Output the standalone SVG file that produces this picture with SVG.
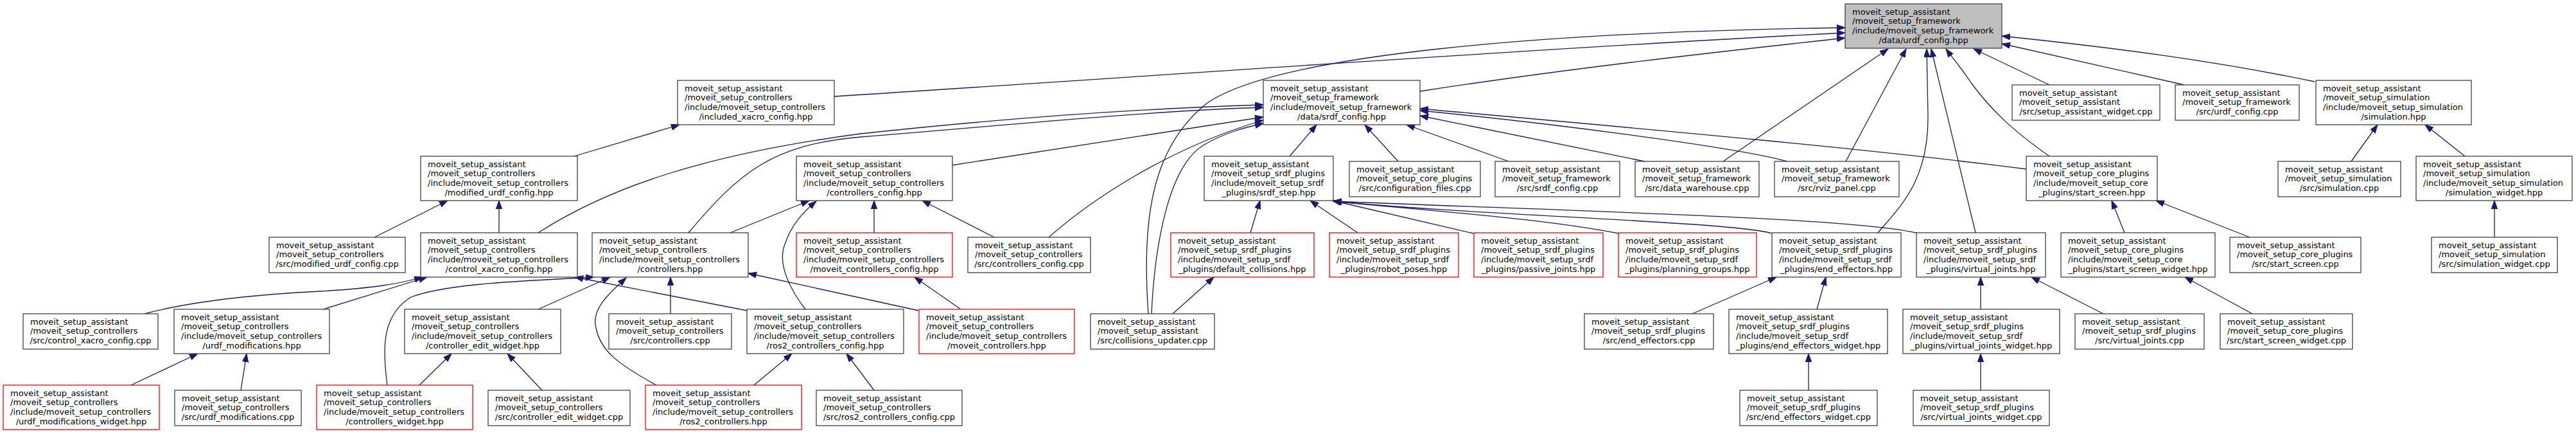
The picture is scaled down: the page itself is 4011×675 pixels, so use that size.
<svg xmlns="http://www.w3.org/2000/svg" width="4011" height="675" viewBox="0 0 4011 675">
<style>
.n rect{fill:#fff;stroke:#404040;stroke-width:1.3}
.n.r rect{stroke:#ff0000}
.n.root rect{fill:#bfbfbf;stroke:#404040}
text{font-family:"DejaVu Sans","Liberation Sans",sans-serif;font-size:13px;fill:#000}
.c{text-anchor:middle}
.e path{fill:none;stroke:#191970;stroke-width:1.3;marker-end:url(#a)}
</style>
<defs>
<marker id="a" markerUnits="userSpaceOnUse" markerWidth="14" markerHeight="10" refX="13" refY="4.7" orient="auto"><path d="M0,0 L13,4.7 L0,9.4 z" fill="#191970" stroke="#191970" stroke-width="1"/></marker>
</defs>
<rect width="4011" height="675" fill="#fff"/>
<g id="edges" class="e">
<path d="M1299,150 C1800,118 2400,75 2873,51"/>
<path d="M1788,488 C1778,350 1790,230 1880,160 C1990,85 2400,50 2873,43"/>
<path d="M2211,142 C2450,105 2700,78 2873,59"/>
<path d="M2683,251 L2940,76"/>
<path d="M2874,251 L2968,76"/>
<path d="M2924,362 C2960,320 3003,280 3002,180 L3000,76"/>
<path d="M3076,362 L3007,76"/>
<path d="M3191,243 C3130,200 3100,170 3070,130 C3050,100 3040,90 3030,76"/>
<path d="M3191,132 L3073,76"/>
<path d="M3604,127 C3450,95 3300,75 3117,56"/>
<path d="M3401,132 L3117,68"/>
<path d="M838,362 C950,290 1100,240 1340,208 C1600,180 1800,168 1967,163"/>
<path d="M1072,362 C1150,270 1200,225 1340,213 C1600,192 1800,172 1967,167"/>
<path d="M1482,257 L1967,182"/>
<path d="M1633,369 C1700,310 1820,230 1967,187"/>
<path d="M1793,488 C1797,400 1815,260 1875,225 C1910,205 1940,198 1967,192"/>
<path d="M2008,243 L2050,194"/>
<path d="M2177,251 L2125,194"/>
<path d="M2349,251 L2190,194"/>
<path d="M2561,251 L2211,180"/>
<path d="M2783,251 C2700,228 2400,190 2211,172"/>
<path d="M3155,263 C2900,230 2500,195 2211,169"/>
<path d="M1947,362 L1962,312"/>
<path d="M2114,362 L2040,312"/>
<path d="M2294,363 L2075,312"/>
<path d="M2520,363 C2400,340 2250,330 2076,313"/>
<path d="M2759,363 C2700,345 2300,335 2076,313"/>
<path d="M2987,363 C2900,340 2500,330 2076,313"/>
<path d="M3503,369 L3357,312"/>
<path d="M3308,362 L3288,312"/>
<path d="M3507,488 L3402,431"/>
<path d="M3661,251 L3702,194"/>
<path d="M3838,243 L3776,194"/>
<path d="M3884,369 L3884,312"/>
<path d="M2829,481 L2843,431"/>
<path d="M2635,488 L2766,431"/>
<path d="M2816,607 L2816,550"/>
<path d="M3084,481 L3084,431"/>
<path d="M3275,488 L3163,431"/>
<path d="M3084,607 L3084,550"/>
<path d="M1826,488 L1890,431"/>
<path d="M894,243 L1058,194"/>
<path d="M583,369 L697,312"/>
<path d="M777,362 L777,312"/>
<path d="M225,488 C300,468 400,458 500,453 C580,448 620,442 658,431"/>
<path d="M503,481 L665,431"/>
<path d="M1163,483 L895,431"/>
<path d="M603,599 C595,540 595,490 640,462 C700,440 820,437 925,431"/>
<path d="M838,481 L950,431"/>
<path d="M1022,599 C960,565 935,545 928,510 C920,480 950,455 975,432"/>
<path d="M1044,488 L1044,431"/>
<path d="M1430,483 L1165,425"/>
<path d="M1137,362 L1260,312"/>
<path d="M1254,481 C1230,450 1210,410 1222,380 C1232,350 1250,330 1271,313"/>
<path d="M1361,362 L1361,312"/>
<path d="M1548,369 L1436,312"/>
<path d="M1496,481 L1424,431"/>
<path d="M1174,599 L1233,550"/>
<path d="M1361,607 L1318,550"/>
<path d="M653,599 L703,550"/>
<path d="M844,607 L790,550"/>
<path d="M204,599 L308,550"/>
<path d="M375,607 L384,550"/>
</g>
<g id="root" class="n root" transform="translate(2873,6)"><rect width="244" height="69"/><text><tspan x="11" y="16.5">moveit_setup_assistant</tspan><tspan x="11" y="31.2">/moveit_setup_framework</tspan><tspan x="11" y="45.9">/include/moveit_setup_framework</tspan><tspan class="c" x="122" y="60.6">/data/urdf_config.hpp</tspan></text></g>
<g id="included_xacro_config_hpp" class="n" transform="translate(1055,125)"><rect width="244" height="69"/><text><tspan x="11" y="16.5">moveit_setup_assistant</tspan><tspan x="11" y="31.2">/moveit_setup_controllers</tspan><tspan x="11" y="45.9">/include/moveit_setup_controllers</tspan><tspan class="c" x="122" y="60.6">/included_xacro_config.hpp</tspan></text></g>
<g id="srdf_config_hpp" class="n" transform="translate(1967,125)"><rect width="244" height="69"/><text><tspan x="11" y="16.5">moveit_setup_assistant</tspan><tspan x="11" y="31.2">/moveit_setup_framework</tspan><tspan x="11" y="45.9">/include/moveit_setup_framework</tspan><tspan class="c" x="122" y="60.6">/data/srdf_config.hpp</tspan></text></g>
<g id="setup_assistant_widget_cpp" class="n" transform="translate(3133,132)"><rect width="230" height="55"/><text><tspan x="11" y="16.5">moveit_setup_assistant</tspan><tspan x="11" y="31.2">/moveit_setup_assistant</tspan><tspan class="c" x="115" y="45.9">/src/setup_assistant_widget.cpp</tspan></text></g>
<g id="urdf_config_cpp" class="n" transform="translate(3387,132)"><rect width="193" height="55"/><text><tspan x="11" y="16.5">moveit_setup_assistant</tspan><tspan x="11" y="31.2">/moveit_setup_framework</tspan><tspan class="c" x="96.5" y="45.9">/src/urdf_config.cpp</tspan></text></g>
<g id="simulation_hpp" class="n" transform="translate(3606,125)"><rect width="242" height="69"/><text><tspan x="11" y="16.5">moveit_setup_assistant</tspan><tspan x="11" y="31.2">/moveit_setup_simulation</tspan><tspan x="11" y="45.9">/include/moveit_setup_simulation</tspan><tspan class="c" x="121" y="60.6">/simulation.hpp</tspan></text></g>
<g id="modified_urdf_config_hpp" class="n" transform="translate(655,243)"><rect width="244" height="69"/><text><tspan x="11" y="16.5">moveit_setup_assistant</tspan><tspan x="11" y="31.2">/moveit_setup_controllers</tspan><tspan x="11" y="45.9">/include/moveit_setup_controllers</tspan><tspan class="c" x="122" y="60.6">/modified_urdf_config.hpp</tspan></text></g>
<g id="controllers_config_hpp" class="n" transform="translate(1240,243)"><rect width="243" height="69"/><text><tspan x="11" y="16.5">moveit_setup_assistant</tspan><tspan x="11" y="31.2">/moveit_setup_controllers</tspan><tspan x="11" y="45.9">/include/moveit_setup_controllers</tspan><tspan class="c" x="121.5" y="60.6">/controllers_config.hpp</tspan></text></g>
<g id="srdf_step_hpp" class="n" transform="translate(1875,243)"><rect width="201" height="69"/><text><tspan x="11" y="16.5">moveit_setup_assistant</tspan><tspan x="11" y="31.2">/moveit_setup_srdf_plugins</tspan><tspan x="11" y="45.9">/include/moveit_setup_srdf</tspan><tspan class="c" x="100.5" y="60.6">_plugins/srdf_step.hpp</tspan></text></g>
<g id="configuration_files_cpp" class="n" transform="translate(2101,251)"><rect width="204" height="55"/><text><tspan x="11" y="16.5">moveit_setup_assistant</tspan><tspan x="11" y="31.2">/moveit_setup_core_plugins</tspan><tspan class="c" x="102" y="45.9">/src/configuration_files.cpp</tspan></text></g>
<g id="srdf_config_cpp" class="n" transform="translate(2328,251)"><rect width="194" height="55"/><text><tspan x="11" y="16.5">moveit_setup_assistant</tspan><tspan x="11" y="31.2">/moveit_setup_framework</tspan><tspan class="c" x="97" y="45.9">/src/srdf_config.cpp</tspan></text></g>
<g id="data_warehouse_cpp" class="n" transform="translate(2546,251)"><rect width="193" height="55"/><text><tspan x="11" y="16.5">moveit_setup_assistant</tspan><tspan x="11" y="31.2">/moveit_setup_framework</tspan><tspan class="c" x="96.5" y="45.9">/src/data_warehouse.cpp</tspan></text></g>
<g id="rviz_panel_cpp" class="n" transform="translate(2763,251)"><rect width="194" height="55"/><text><tspan x="11" y="16.5">moveit_setup_assistant</tspan><tspan x="11" y="31.2">/moveit_setup_framework</tspan><tspan class="c" x="97" y="45.9">/src/rviz_panel.cpp</tspan></text></g>
<g id="start_screen_hpp" class="n" transform="translate(3155,243)"><rect width="204" height="69"/><text><tspan x="11" y="16.5">moveit_setup_assistant</tspan><tspan x="11" y="31.2">/moveit_setup_core_plugins</tspan><tspan x="11" y="45.9">/include/moveit_setup_core</tspan><tspan class="c" x="102" y="60.6">_plugins/start_screen.hpp</tspan></text></g>
<g id="simulation_cpp" class="n" transform="translate(3547,251)"><rect width="191" height="55"/><text><tspan x="11" y="16.5">moveit_setup_assistant</tspan><tspan x="11" y="31.2">/moveit_setup_simulation</tspan><tspan class="c" x="95.5" y="45.9">/src/simulation.cpp</tspan></text></g>
<g id="simulation_widget_hpp" class="n" transform="translate(3762,243)"><rect width="243" height="69"/><text><tspan x="11" y="16.5">moveit_setup_assistant</tspan><tspan x="11" y="31.2">/moveit_setup_simulation</tspan><tspan x="11" y="45.9">/include/moveit_setup_simulation</tspan><tspan class="c" x="121.5" y="60.6">/simulation_widget.hpp</tspan></text></g>
<g id="modified_urdf_config_cpp" class="n" transform="translate(419,369)"><rect width="212" height="55"/><text><tspan x="11" y="16.5">moveit_setup_assistant</tspan><tspan x="11" y="31.2">/moveit_setup_controllers</tspan><tspan class="c" x="106" y="45.9">/src/modified_urdf_config.cpp</tspan></text></g>
<g id="control_xacro_config_hpp" class="n" transform="translate(655,362)"><rect width="244" height="69"/><text><tspan x="11" y="16.5">moveit_setup_assistant</tspan><tspan x="11" y="31.2">/moveit_setup_controllers</tspan><tspan x="11" y="45.9">/include/moveit_setup_controllers</tspan><tspan class="c" x="122" y="60.6">/control_xacro_config.hpp</tspan></text></g>
<g id="controllers_hpp" class="n" transform="translate(922,362)"><rect width="243" height="69"/><text><tspan x="11" y="16.5">moveit_setup_assistant</tspan><tspan x="11" y="31.2">/moveit_setup_controllers</tspan><tspan x="11" y="45.9">/include/moveit_setup_controllers</tspan><tspan class="c" x="121.5" y="60.6">/controllers.hpp</tspan></text></g>
<g id="moveit_controllers_config_hpp" class="n r" transform="translate(1240,362)"><rect width="243" height="69"/><text><tspan x="11" y="16.5">moveit_setup_assistant</tspan><tspan x="11" y="31.2">/moveit_setup_controllers</tspan><tspan x="11" y="45.9">/include/moveit_setup_controllers</tspan><tspan class="c" x="121.5" y="60.6">/moveit_controllers_config.hpp</tspan></text></g>
<g id="controllers_config_cpp" class="n" transform="translate(1507,369)"><rect width="191" height="55"/><text><tspan x="11" y="16.5">moveit_setup_assistant</tspan><tspan x="11" y="31.2">/moveit_setup_controllers</tspan><tspan class="c" x="95.5" y="45.9">/src/controllers_config.cpp</tspan></text></g>
<g id="default_collisions_hpp" class="n r" transform="translate(1823,362)"><rect width="223" height="69"/><text><tspan x="11" y="16.5">moveit_setup_assistant</tspan><tspan x="11" y="31.2">/moveit_setup_srdf_plugins</tspan><tspan x="11" y="45.9">/include/moveit_setup_srdf</tspan><tspan class="c" x="111.5" y="60.6">_plugins/default_collisions.hpp</tspan></text></g>
<g id="robot_poses_hpp" class="n r" transform="translate(2070,362)"><rect width="201" height="69"/><text><tspan x="11" y="16.5">moveit_setup_assistant</tspan><tspan x="11" y="31.2">/moveit_setup_srdf_plugins</tspan><tspan x="11" y="45.9">/include/moveit_setup_srdf</tspan><tspan class="c" x="100.5" y="60.6">_plugins/robot_poses.hpp</tspan></text></g>
<g id="passive_joints_hpp" class="n r" transform="translate(2295,362)"><rect width="201" height="69"/><text><tspan x="11" y="16.5">moveit_setup_assistant</tspan><tspan x="11" y="31.2">/moveit_setup_srdf_plugins</tspan><tspan x="11" y="45.9">/include/moveit_setup_srdf</tspan><tspan class="c" x="100.5" y="60.6">_plugins/passive_joints.hpp</tspan></text></g>
<g id="planning_groups_hpp" class="n r" transform="translate(2520,362)"><rect width="215" height="69"/><text><tspan x="11" y="16.5">moveit_setup_assistant</tspan><tspan x="11" y="31.2">/moveit_setup_srdf_plugins</tspan><tspan x="11" y="45.9">/include/moveit_setup_srdf</tspan><tspan class="c" x="107.5" y="60.6">_plugins/planning_groups.hpp</tspan></text></g>
<g id="end_effectors_hpp" class="n" transform="translate(2759,362)"><rect width="201" height="69"/><text><tspan x="11" y="16.5">moveit_setup_assistant</tspan><tspan x="11" y="31.2">/moveit_setup_srdf_plugins</tspan><tspan x="11" y="45.9">/include/moveit_setup_srdf</tspan><tspan class="c" x="100.5" y="60.6">_plugins/end_effectors.hpp</tspan></text></g>
<g id="virtual_joints_hpp" class="n" transform="translate(2984,362)"><rect width="201" height="69"/><text><tspan x="11" y="16.5">moveit_setup_assistant</tspan><tspan x="11" y="31.2">/moveit_setup_srdf_plugins</tspan><tspan x="11" y="45.9">/include/moveit_setup_srdf</tspan><tspan class="c" x="100.5" y="60.6">_plugins/virtual_joints.hpp</tspan></text></g>
<g id="start_screen_widget_hpp" class="n" transform="translate(3209,362)"><rect width="240" height="69"/><text><tspan x="11" y="16.5">moveit_setup_assistant</tspan><tspan x="11" y="31.2">/moveit_setup_core_plugins</tspan><tspan x="11" y="45.9">/include/moveit_setup_core</tspan><tspan class="c" x="120" y="60.6">_plugins/start_screen_widget.hpp</tspan></text></g>
<g id="start_screen_cpp" class="n" transform="translate(3472,369)"><rect width="204" height="55"/><text><tspan x="11" y="16.5">moveit_setup_assistant</tspan><tspan x="11" y="31.2">/moveit_setup_core_plugins</tspan><tspan class="c" x="102" y="45.9">/src/start_screen.cpp</tspan></text></g>
<g id="simulation_widget_cpp" class="n" transform="translate(3786,369)"><rect width="196" height="55"/><text><tspan x="11" y="16.5">moveit_setup_assistant</tspan><tspan x="11" y="31.2">/moveit_setup_simulation</tspan><tspan class="c" x="98" y="45.9">/src/simulation_widget.cpp</tspan></text></g>
<g id="control_xacro_config_cpp" class="n" transform="translate(36,488)"><rect width="210" height="55"/><text><tspan x="11" y="16.5">moveit_setup_assistant</tspan><tspan x="11" y="31.2">/moveit_setup_controllers</tspan><tspan class="c" x="105" y="45.9">/src/control_xacro_config.cpp</tspan></text></g>
<g id="urdf_modifications_hpp" class="n" transform="translate(271,481)"><rect width="242" height="69"/><text><tspan x="11" y="16.5">moveit_setup_assistant</tspan><tspan x="11" y="31.2">/moveit_setup_controllers</tspan><tspan x="11" y="45.9">/include/moveit_setup_controllers</tspan><tspan class="c" x="121" y="60.6">/urdf_modifications.hpp</tspan></text></g>
<g id="controller_edit_widget_hpp" class="n" transform="translate(630,481)"><rect width="243" height="69"/><text><tspan x="11" y="16.5">moveit_setup_assistant</tspan><tspan x="11" y="31.2">/moveit_setup_controllers</tspan><tspan x="11" y="45.9">/include/moveit_setup_controllers</tspan><tspan class="c" x="121.5" y="60.6">/controller_edit_widget.hpp</tspan></text></g>
<g id="controllers_cpp" class="n" transform="translate(948,488)"><rect width="191" height="55"/><text><tspan x="11" y="16.5">moveit_setup_assistant</tspan><tspan x="11" y="31.2">/moveit_setup_controllers</tspan><tspan class="c" x="95.5" y="45.9">/src/controllers.cpp</tspan></text></g>
<g id="ros2_controllers_config_hpp" class="n" transform="translate(1163,481)"><rect width="244" height="69"/><text><tspan x="11" y="16.5">moveit_setup_assistant</tspan><tspan x="11" y="31.2">/moveit_setup_controllers</tspan><tspan x="11" y="45.9">/include/moveit_setup_controllers</tspan><tspan class="c" x="122" y="60.6">/ros2_controllers_config.hpp</tspan></text></g>
<g id="moveit_controllers_hpp" class="n r" transform="translate(1431,481)"><rect width="242" height="69"/><text><tspan x="11" y="16.5">moveit_setup_assistant</tspan><tspan x="11" y="31.2">/moveit_setup_controllers</tspan><tspan x="11" y="45.9">/include/moveit_setup_controllers</tspan><tspan class="c" x="121" y="60.6">/moveit_controllers.hpp</tspan></text></g>
<g id="collisions_updater_cpp" class="n" transform="translate(1698,488)"><rect width="193" height="55"/><text><tspan x="11" y="16.5">moveit_setup_assistant</tspan><tspan x="11" y="31.2">/moveit_setup_assistant</tspan><tspan class="c" x="96.5" y="45.9">/src/collisions_updater.cpp</tspan></text></g>
<g id="end_effectors_cpp" class="n" transform="translate(2467,488)"><rect width="201" height="55"/><text><tspan x="11" y="16.5">moveit_setup_assistant</tspan><tspan x="11" y="31.2">/moveit_setup_srdf_plugins</tspan><tspan class="c" x="100.5" y="45.9">/src/end_effectors.cpp</tspan></text></g>
<g id="end_effectors_widget_hpp" class="n" transform="translate(2692,481)"><rect width="247" height="69"/><text><tspan x="11" y="16.5">moveit_setup_assistant</tspan><tspan x="11" y="31.2">/moveit_setup_srdf_plugins</tspan><tspan x="11" y="45.9">/include/moveit_setup_srdf</tspan><tspan class="c" x="123.5" y="60.6">_plugins/end_effectors_widget.hpp</tspan></text></g>
<g id="virtual_joints_widget_hpp" class="n" transform="translate(2963,481)"><rect width="244" height="69"/><text><tspan x="11" y="16.5">moveit_setup_assistant</tspan><tspan x="11" y="31.2">/moveit_setup_srdf_plugins</tspan><tspan x="11" y="45.9">/include/moveit_setup_srdf</tspan><tspan class="c" x="122" y="60.6">_plugins/virtual_joints_widget.hpp</tspan></text></g>
<g id="virtual_joints_cpp" class="n" transform="translate(3231,488)"><rect width="201" height="55"/><text><tspan x="11" y="16.5">moveit_setup_assistant</tspan><tspan x="11" y="31.2">/moveit_setup_srdf_plugins</tspan><tspan class="c" x="100.5" y="45.9">/src/virtual_joints.cpp</tspan></text></g>
<g id="start_screen_widget_cpp" class="n" transform="translate(3457,488)"><rect width="206" height="55"/><text><tspan x="11" y="16.5">moveit_setup_assistant</tspan><tspan x="11" y="31.2">/moveit_setup_core_plugins</tspan><tspan class="c" x="103" y="45.9">/src/start_screen_widget.cpp</tspan></text></g>
<g id="urdf_modifications_widget_hpp" class="n r" transform="translate(5,599)"><rect width="243" height="69"/><text><tspan x="11" y="16.5">moveit_setup_assistant</tspan><tspan x="11" y="31.2">/moveit_setup_controllers</tspan><tspan x="11" y="45.9">/include/moveit_setup_controllers</tspan><tspan class="c" x="121.5" y="60.6">/urdf_modifications_widget.hpp</tspan></text></g>
<g id="urdf_modifications_cpp" class="n" transform="translate(272,607)"><rect width="197" height="55"/><text><tspan x="11" y="16.5">moveit_setup_assistant</tspan><tspan x="11" y="31.2">/moveit_setup_controllers</tspan><tspan class="c" x="98.5" y="45.9">/src/urdf_modifications.cpp</tspan></text></g>
<g id="controllers_widget_hpp" class="n r" transform="translate(493,599)"><rect width="243" height="69"/><text><tspan x="11" y="16.5">moveit_setup_assistant</tspan><tspan x="11" y="31.2">/moveit_setup_controllers</tspan><tspan x="11" y="45.9">/include/moveit_setup_controllers</tspan><tspan class="c" x="121.5" y="60.6">/controllers_widget.hpp</tspan></text></g>
<g id="controller_edit_widget_cpp" class="n" transform="translate(760,607)"><rect width="221" height="55"/><text><tspan x="11" y="16.5">moveit_setup_assistant</tspan><tspan x="11" y="31.2">/moveit_setup_controllers</tspan><tspan class="c" x="110.5" y="45.9">/src/controller_edit_widget.cpp</tspan></text></g>
<g id="ros2_controllers_hpp" class="n r" transform="translate(1005,599)"><rect width="243" height="69"/><text><tspan x="11" y="16.5">moveit_setup_assistant</tspan><tspan x="11" y="31.2">/moveit_setup_controllers</tspan><tspan x="11" y="45.9">/include/moveit_setup_controllers</tspan><tspan class="c" x="121.5" y="60.6">/ros2_controllers.hpp</tspan></text></g>
<g id="ros2_controllers_config_cpp" class="n" transform="translate(1271,607)"><rect width="227" height="55"/><text><tspan x="11" y="16.5">moveit_setup_assistant</tspan><tspan x="11" y="31.2">/moveit_setup_controllers</tspan><tspan class="c" x="113.5" y="45.9">/src/ros2_controllers_config.cpp</tspan></text></g>
<g id="end_effectors_widget_cpp" class="n" transform="translate(2709,607)"><rect width="214" height="55"/><text><tspan x="11" y="16.5">moveit_setup_assistant</tspan><tspan x="11" y="31.2">/moveit_setup_srdf_plugins</tspan><tspan class="c" x="107" y="45.9">/src/end_effectors_widget.cpp</tspan></text></g>
<g id="virtual_joints_widget_cpp" class="n" transform="translate(2979,607)"><rect width="212" height="55"/><text><tspan x="11" y="16.5">moveit_setup_assistant</tspan><tspan x="11" y="31.2">/moveit_setup_srdf_plugins</tspan><tspan class="c" x="106" y="45.9">/src/virtual_joints_widget.cpp</tspan></text></g>
</svg>
